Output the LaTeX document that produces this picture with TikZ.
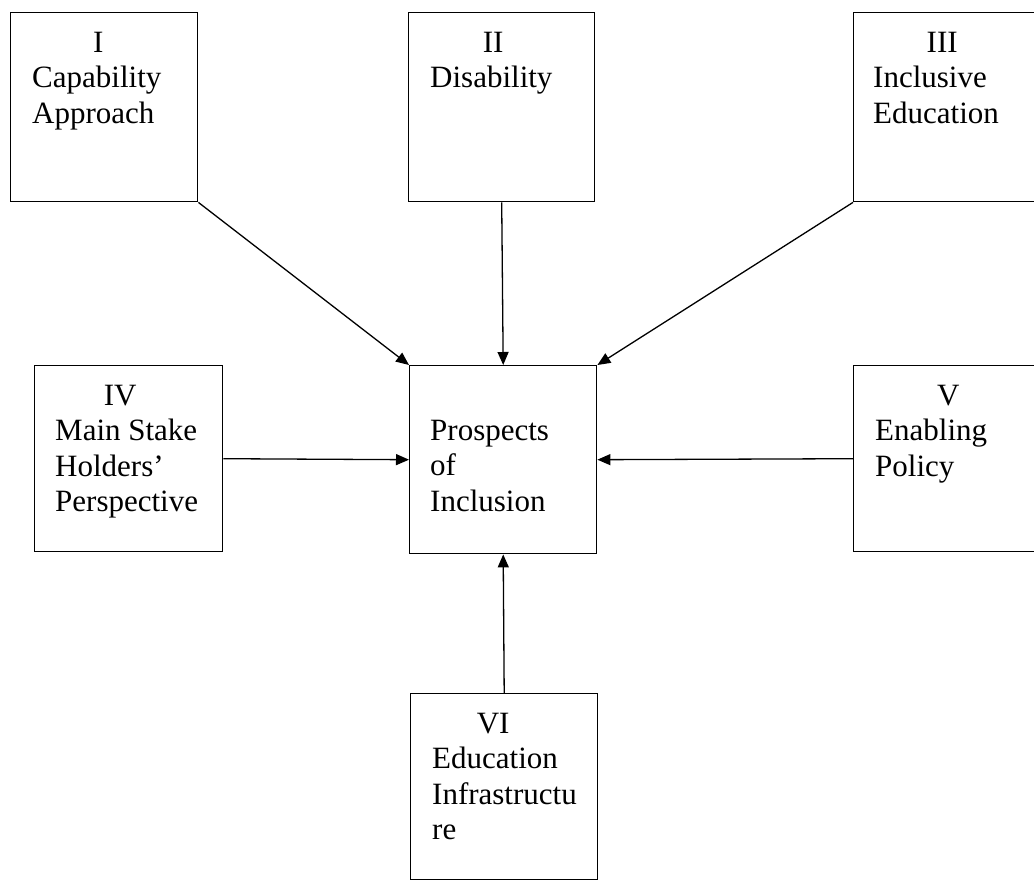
\documentclass[tikz,border=0pt]{standalone}
\usepackage{fontspec}
\setmainfont{Liberation Serif}
\usetikzlibrary{arrows.meta}
\begin{document}
\begin{tikzpicture}[x=1pt,y=-1pt,
  box/.style={draw, line width=1.4pt, anchor=north west, inner sep=0pt, minimum width=187pt, minimum height=188pt},
  txt/.style={anchor=north west, inner sep=0pt, align=left, font=\rmfamily\fontsize{31}{35.5}\selectfont},
  arr/.style={line width=1.3pt, -{Triangle[length=13pt,width=11pt]}}]
\useasboundingbox (0,0) rectangle (1034,880);
\clip (0,0) rectangle (1034,880);
% boxes
\node[box, minimum height=189pt] (c1) at (10,12) {};
\node[box, minimum width=186pt, minimum height=189pt] (c2) at (408,12) {};
\node[box, minimum height=189pt] (c3) at (853,12) {};
\node[box, minimum width=188pt, minimum height=186pt] (c4) at (34,365) {};
\node[box] (c0) at (409,365) {};
\node[box, minimum height=186pt] (c5) at (853,365) {};
\node[box, minimum height=186pt] (c6) at (410,693) {};
% texts
\node[txt] (t1) at (32,12) {\rule{0pt}{40pt}\makebox[132pt][c]{I}\\Capability\\Approach};
\node[txt] (t2) at (430,12) {\rule{0pt}{40pt}\makebox[126pt][c]{II}\\Disability};
\node[txt] (t3) at (873,12) {\rule{0pt}{40pt}\makebox[138pt][c]{III}\\Inclusive\\Education};
\node[txt] (t4) at (55,365) {\rule{0pt}{40pt}\makebox[130pt][c]{IV}\\Main Stake\\Holders’\\Perspective};
\node[txt] (t0) at (430,365) {\rule{0pt}{75pt}Prospects\\of\\Inclusion};
\node[txt] (t5) at (875,365) {\rule{0pt}{40pt}\makebox[146pt][c]{V}\\Enabling\\Policy};
\node[txt] (t6) at (432,693) {\rule{0pt}{40pt}\makebox[122pt][c]{VI}\\Education\\Infrastructu\\re};
% connectors
\draw[arr] (c1.south east) -- (c0.north west);
\draw[arr] (c2.south) -- (c0.north);
\draw[arr] (c3.south west) -- (c0.north east);
\draw[arr] (c4.east) -- (c0.west);
\draw[arr] (c5.west) -- (c0.east);
\draw[arr] (c6.north) -- (c0.south);
\end{tikzpicture}
\end{document}
